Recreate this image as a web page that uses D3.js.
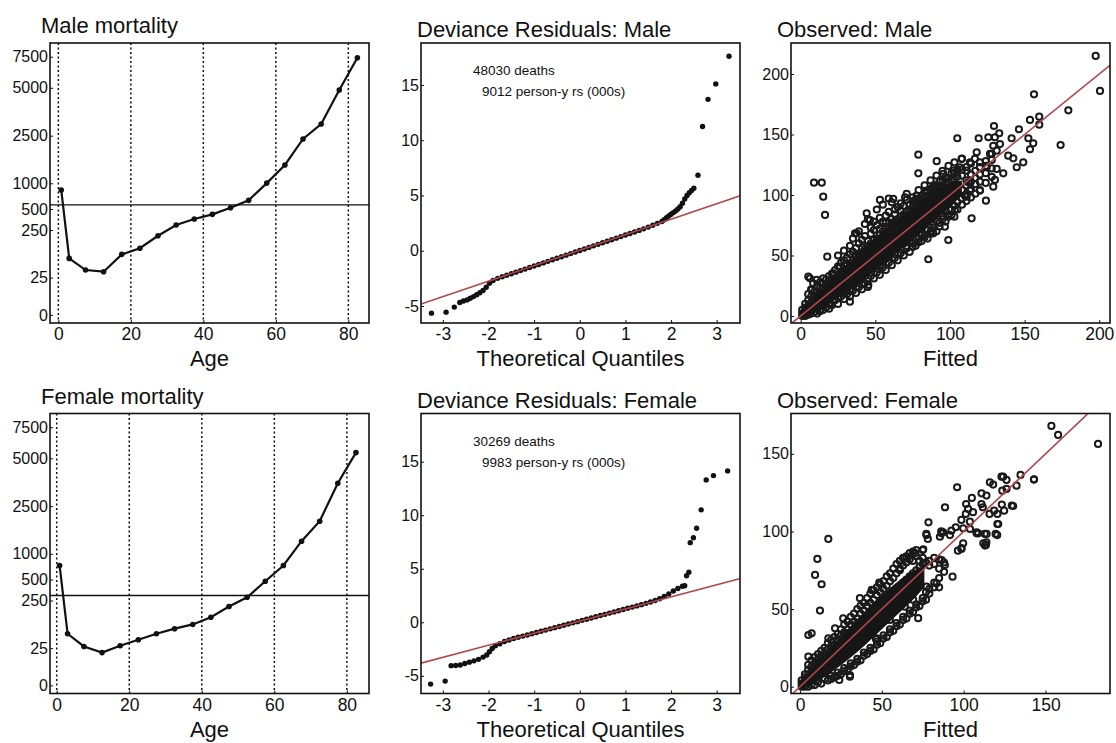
<!DOCTYPE html>
<html>
<head>
<meta charset="utf-8">
<script src="https://cdnjs.cloudflare.com/ajax/libs/d3/7.8.5/d3.min.js"></script>
<style>
  body { margin: 0; background: #fff; }
  svg text { font-family: "Liberation Sans", Arial, Helvetica, sans-serif; fill: #111; }
</style>
</head>
<body>
<svg id="chart" width="1116" height="743"></svg>
<script>
// ---------- data ----------
var ages = [0.8, 3, 7.5, 12.5, 17.5, 22.5, 27.5, 32.5, 37.5, 42.5, 47.5, 52.5, 57.5, 62.5, 67.5, 72.5, 77.5, 82.5];
var maleRate = [870, 116, 61, 53, 135, 164, 223, 310, 381, 437, 525, 669, 1006, 1577, 2396, 3110, 4880, 7420];
var femaleRate = [773, 93, 33, 22, 36, 65, 93, 117, 137, 171, 222, 289, 480, 773, 1397, 2027, 3698, 5460];
var maleRef = 580, femaleRef = 310;
var rateTicks = [0, 25, 250, 500, 1000, 2500, 5000, 7500];
var ageTicks = [0, 20, 40, 60, 80];

var qqTicksX = [-3, -2, -1, 0, 1, 2, 3];
var qqTicksY = [-5, 0, 5, 10, 15];
var maleQ = [-3.25, -2.93, -2.75, -2.63, -2.55, -2.47, -2.4, -2.33, -2.26, -2.19, -2.12, -2.05, -1.98,
  -1.9, -1.8, -1.7, -1.6, -1.5, -1.4, -1.3, -1.2, -1.1, -1.0, -0.9, -0.8, -0.7, -0.6, -0.5, -0.4, -0.3, -0.2, -0.1,
  0, 0.1, 0.2, 0.3, 0.4, 0.5, 0.6, 0.7, 0.8, 0.9, 1.0, 1.1, 1.2, 1.3, 1.4, 1.5, 1.6, 1.7, 1.8,
  1.85, 1.9, 1.95, 2.0, 2.05, 2.1, 2.15, 2.2, 2.25, 2.3, 2.35, 2.4, 2.45, 2.5, 2.59, 2.69, 2.81, 2.98, 3.27];
var maleRes = [-5.65, -5.56, -5.1, -4.69, -4.55, -4.45, -4.3, -4.15, -3.98, -3.8, -3.6, -3.3, -2.95,
  -2.7, -2.5, -2.36, -2.22, -2.08, -1.94, -1.8, -1.66, -1.52, -1.38, -1.24, -1.1, -0.96, -0.82, -0.68, -0.54, -0.4, -0.26, -0.12,
  0.02, 0.16, 0.3, 0.44, 0.58, 0.72, 0.86, 1.0, 1.14, 1.28, 1.42, 1.56, 1.7, 1.84, 1.98, 2.14, 2.3, 2.48, 2.64,
  2.8, 2.98, 3.14, 3.3, 3.45, 3.6, 3.78, 3.98, 4.3, 4.68, 5.0, 5.25, 5.45, 5.65, 6.83, 11.25, 13.7, 15.1, 17.6];
var femaleQ = [-3.27, -2.95, -2.82, -2.72, -2.62, -2.52, -2.42, -2.32, -2.22, -2.12, -2.04, -1.98, -1.92, -1.85,
  -1.75, -1.65, -1.55, -1.45, -1.35, -1.25, -1.15, -1.05, -0.95, -0.85, -0.75, -0.65, -0.55, -0.45, -0.35, -0.25, -0.15, -0.05,
  0.05, 0.15, 0.25, 0.35, 0.45, 0.55, 0.65, 0.75, 0.85, 0.95, 1.05, 1.15, 1.25, 1.35, 1.45, 1.55, 1.65, 1.75, 1.85, 1.95, 2.05, 2.15, 2.25,
  2.3, 2.34, 2.39, 2.42, 2.49, 2.56, 2.66, 2.77, 2.93, 3.24];
var femaleRes = [-5.77, -5.49, -4.05, -4.03, -3.99, -3.85, -3.72, -3.6, -3.46, -3.25, -3.05, -2.75, -2.45, -2.2,
  -2.0, -1.8, -1.65, -1.52, -1.4, -1.29, -1.18, -1.07, -0.95, -0.84, -0.73, -0.61, -0.5, -0.39, -0.27, -0.16, -0.05, 0.06,
  0.18, 0.29, 0.4, 0.52, 0.63, 0.74, 0.86, 0.97, 1.08, 1.2, 1.31, 1.42, 1.53, 1.65, 1.77, 1.9, 2.04, 2.2, 2.42, 2.64, 2.92, 3.15, 3.36,
  3.42, 4.35, 4.67, 7.44, 7.9, 8.78, 10.5, 13.3, 13.7, 14.14];
var maleQQLine = [0.05, 1.4];     // intercept, slope
var femaleQQLine = [0.12, 1.13];
var maleNotes = ["48030 deaths", "9012 person-y rs (000s)"];
var femaleNotes = ["30269 deaths", "9983 person-y rs (000s)"];

var maleObsTicks = [0, 50, 100, 150, 200];
var femaleObsTicks = [0, 50, 100, 150];
// [fitted, observed] for the scattered points
var maleObs = [
  [197.6,214.9],[200.5,186],[156.3,183.2],[179.3,170],[174.1,141.3],
  [159.8,164.7],[159.8,158.1],[153.6,162],[146.2,154.3],[152.5,146.9],[155.8,142.7],[153.6,137.8],[149.1,127],[144.7,122.9],
  [141.3,146.9],[135.7,117.9],[142.4,130.3],[139,132.5],[129.5,157],[133,151],[130.1,147.7],[125.7,147.7],[119.2,146.9],[104.9,146.9],
  [78.8,133.3],[78.8,117.9],[91.1,127.9],[126.8,133.9],[131.3,136.6],[133.5,142.1],[129,140.7],[117.9,135.3],[116.7,129.8],
  [113.4,127],[107.8,129.8],[106.7,122.9],[111.2,120.1],[124.6,122.9],[131.3,121.5],[130.1,112.4],[129,106.9],[124.1,95.3],
  [120.1,103.6],[102.2,120.1],[101.1,111.8],[95.5,117.4],[93.3,111.8],[88.8,106.4],[84.4,103.6],[77.7,99.4],[69.9,98.1],[62,96.7],
  [112.3,110.5],[113.4,103.6],[110,99.4],[97.8,103.6],[104.5,107.7],[114.5,80.7],[98.9,62.8],[85.5,46.9],[111.2,98.6],
  [103.3,87.6],[96.6,73.8],[88.8,68.3],[8.9,110.2],[14.1,110.2],[15.1,98.6],[16.3,83.5],[17.8,49],
  [45.3,25.6],[33,11.8],[44.2,84.9],[37.5,68.3],[46.4,79.3],[53.1,95.9],[36.4,68.3],[6.2,31.1],[8.4,27],
  [10.7,29.8],[5.1,32.5],[7.4,21.5],[21.8,35.3],[26.3,40.7],[24.1,21.5],[19.6,9.1],[12.9,5],[28.5,18.8]
];
// scattered band: [fitted, [observed...]]
var maleBand = [
  [1,[0,2,5]],[3,[0,4,7,10]],[5,[1,8,13,18]],[7,[2,11,16,22]],[9,[3,12,14,20]],[11,[2,6,17,25]],
  [13,[4,19,23,28]],[15,[5,8,22,27,31]],[17,[7,21,24,30]],[19,[6,10,27,33]],[21,[9,24,29,35]],[23,[13,27,31,38]],
  [25,[10,15,33,41,50]],[27,[16,30,35,44]],[29,[14,20,39,46,54]],[31,[18,38,43,48]],[33,[16,22,42,51,58]],
  [35,[21,25,46,53,64]],[37,[19,27,44,50,56]],[39,[24,30,49,60,70]],[41,[22,26,52,57,63]],[43,[27,33,55,66,76]],
  [45,[24,31,58,62,80]],[47,[33,36,60,68,73]],[49,[31,40,63,71,78]],[51,[36,39,64,75,88]],[53,[34,42,67,72,81]],
  [55,[40,45,70,78,92]],[57,[38,47,72,77,83]],[59,[44,50,74,86,97]],[61,[42,53,77,80,94]],[63,[48,51,78,84,88]],
  [65,[46,56,80,90]],[67,[52,55,82,87,93]],[69,[50,60,84,91]],[71,[56,58,86,96,101]],[73,[53,62,88,92]],
  [75,[60,57,90,95,98]],[77,[58,65,92,96]],[79,[64,61,94,97,104]],[81,[62,68,96,99]],[83,[67,65,98,102,108]],
  [85,[64,71,99,103]],[87,[70,68,101,105,112]],[89,[73,76,103,108]],[91,[70,78,105,108,116]],[93,[77,74,106,111]],
  [95,[80,83,108,111,120]],[97,[78,86,109,114]],[99,[84,82,111,114,124]],[101,[83,88,112,118]],[103,[82,91,113,118,127]],
  [105,[88,94,115,121]],[108,[92,97,104,116,121,130]],[111,[95,101,108,112,123]],[114,[98,105,111,117,126]],
  [117,[101,109,114,120]],[120,[104,111,117,123,127]],[124,[110,118,124,128]],[128,[115,122,129,134]]
];
// solid core where the circles merge: fitted, lower and upper observed
var maleCoreF  = [0, 5, 10, 20, 30, 40, 50, 60, 70, 80, 90, 100, 108];
var maleCoreLo = [-2, 0, 3, 11, 19, 28, 38, 48, 58, 68, 79, 90, 101];
var maleCoreHi = [3, 11, 18, 30, 42, 54, 65, 75, 85, 95, 104, 110, 112];

var femaleObs = [
  [153.6,168],[157.7,162.2],[182.1,156.4],[143,133.6],[134.7,136.4],[124.1,135.3],[130.2,116.4],
  [96,128.5],[88.6,115.6],[78.5,105.9],[105,121.6],[110.9,124.6],[116,131.7],[118,130.2],[123.1,135.3],[126.2,133.2],[126.2,127.4],
  [142.9,133.4],[132.3,129.5],[123.6,126.3],[113.9,123.1],[110.9,117.7],[102.7,114.5],[105.7,112.4],[101.3,111.3],[98.6,107.4],
  [95.2,102.7],[92.5,100.5],[87.5,99.5],[85.5,96.6],[86.3,100.1],[78.1,95.2],[77.2,98.4],[103.9,101.6],[107.9,99.5],[112.9,98.4],
  [119.5,98.4],[113.9,93],[113,90.9],[98.6,88.7],[96.5,87.6],[120.6,104.8],[118.6,113.4],[123.3,117.3],[124.7,113.4],[129.4,116.6],
  [120.6,111.3],[101.5,117.7],[111.7,115.6],[115.8,111.3],[107.9,98.8],[114,98.4],[120.5,97.7],[121.1,104.8],[113.6,91.3],
  [93.2,70.9],[72.2,44.1],[46.4,30.7],[17.3,95.2],[10.6,82.3],[9.2,72],[13.2,66],[12.2,49],[5.1,33.3],[7.1,34.4],[24,4.3],[30.5,7.5],
  [77.3,97.7],[86.5,98.8],[91.6,97.7],[99.7,102],[103.8,106.3],[108.9,98.8],[112,92.4],[98.7,89.2],[99.7,92.4],[86.5,81.6],
  [88.5,78.4],[83.4,66.6],[77.3,64.4],[69.2,55.9],[64.1,51.5],[54.9,43],[46.8,31.2],[30.5,6.4],
  [48.4,67],[43.8,62.3],[36.6,57],[26.4,44],[21.4,37.6],[17.3,31.2],[5.1,19.3],[63.1,82.7],[70.2,86],[75.3,88.5],[61,76.3]
];
var femaleBand = [
  [1,[0,2,4]],[3,[0,4,6,8]],[5,[0,8,11,14]],[7,[1,10,13,17]],[9,[1,12,15,19]],[11,[3,14,17,21]],
  [13,[2,16,19,23]],[15,[5,18,21,25]],[17,[4,20,24,28]],[19,[7,5,22,26,30]],[21,[6,24,27,32]],[23,[9,7,26,30,34]],
  [25,[8,28,33,37]],[27,[12,10,30,35,40]],[29,[11,33,37,42]],[31,[15,13,35,40,45]],[33,[14,37,42,47]],
  [35,[18,16,39,44,50]],[37,[17,41,47,52]],[39,[22,20,43,49,54]],[41,[21,45,52,57]],[43,[25,23,47,54,60]],
  [45,[24,49,56,62]],[47,[29,27,51,59,64]],[49,[28,53,61,66]],[51,[33,31,55,63,68]],[53,[32,57,65,71]],
  [55,[37,35,59,68,73]],[57,[36,61,70,76]],[59,[41,39,63,73,79]],[61,[40,65,75,81]],[63,[45,43,67,78,83]],
  [65,[44,69,80,84]],[67,[49,47,71,82,86]],[69,[48,73,81,87]],[71,[53,51,75,84,88]],[73,[52,77,81]],
  [75,[57,55,79,83,88]],[77,[56,61,80]],[79,[60,63,78,81]],[82,[64,67,79,83]],[85,[64,70,76,82]],[88,[74,80]]
];
var femaleCoreF  = [0, 5, 10, 20, 30, 40, 50, 60, 70, 76];
var femaleCoreLo = [-2, 0, 3, 10, 18, 27, 37, 47, 57, 64];
var femaleCoreHi = [3, 9, 15, 27, 38, 49, 59, 68, 75, 78];

// ---------- layout ----------
var colX = [50, 421, 791], rowY = [43, 413.5], pw = 319, ph = 280;
var titleX = [41, 417, 777], titleDy = [-10, -6, -6];
// where each rate tick sits, as a share of the plot height from the top
var rateTickFrac = [0.971, 0.838, 0.668, 0.593, 0.501, 0.331, 0.160, 0.049];
var red = "#b0474b", ink = "#111";

var svg = d3.select("#chart");

function panel(col, row) {
  var g = svg.append("g").attr("transform", "translate(" + colX[col] + "," + rowY[row] + ")");
  var id = "clip" + col + row;
  g.append("clipPath").attr("id", id).append("rect").attr("width", pw).attr("height", ph);
  g.plot = g.append("g").attr("clip-path", "url(#" + id + ")");
  return g;
}

function decorate(g, col, x, y, xt, yt, title, xlabel) {
  var ax = g.append("g").attr("transform", "translate(0," + ph + ")")
    .call(d3.axisBottom(x).tickValues(xt).tickSizeInner(-3).tickSizeOuter(0).tickPadding(5)
      .tickFormat(function(d) { return String(d); }));
  var ay = g.append("g")
    .call(d3.axisLeft(y).tickValues(yt).tickSizeInner(-3).tickSizeOuter(0).tickPadding(2)
      .tickFormat(function(d) { return String(d); }));
  [ax, ay].forEach(function(a) {
    a.select(".domain").remove();
    a.selectAll("line").attr("stroke", ink);
    a.selectAll("text").attr("fill", ink).style("font-family", '"Liberation Sans", Arial, sans-serif');
  });
  ax.selectAll("text").attr("font-size", 17.5);
  ay.selectAll("text").attr("font-size", 16);

  g.append("rect").attr("width", pw).attr("height", ph)
    .attr("fill", "none").attr("stroke", ink).attr("stroke-width", 1.6);

  g.append("text").attr("x", titleX[col] - colX[col]).attr("y", titleDy[col])
    .attr("font-size", 22).text(title);
  g.append("text").attr("x", pw / 2).attr("y", ph + 43)
    .attr("text-anchor", "middle").attr("font-size", 22).text(xlabel);
}

function mortality(row, rates, ref, xdom, title) {
  var g = panel(0, row);
  var x = d3.scaleLinear().domain(xdom).range([0, pw]);
  var y = d3.scaleLinear().domain(rateTicks).range(rateTickFrac.map(function(f) { return f * ph; }));

  g.plot.selectAll(".grid").data(ageTicks).enter().append("line")
    .attr("x1", function(d) { return x(d); }).attr("x2", function(d) { return x(d); })
    .attr("y1", 0).attr("y2", ph)
    .attr("stroke", ink).attr("stroke-width", 1.5).attr("stroke-dasharray", "2,2.5");

  g.plot.append("line").attr("x1", 0).attr("x2", pw)
    .attr("y1", y(ref)).attr("y2", y(ref)).attr("stroke", ink).attr("stroke-width", 1.3);

  var pts = ages.map(function(a, i) { return [a, rates[i]]; });
  g.plot.append("path").datum(pts)
    .attr("d", d3.line().x(function(d) { return x(d[0]); }).y(function(d) { return y(d[1]); }))
    .attr("fill", "none").attr("stroke", ink).attr("stroke-width", 2.2);
  g.plot.selectAll(".pt").data(pts).enter().append("circle")
    .attr("cx", function(d) { return x(d[0]); }).attr("cy", function(d) { return y(d[1]); })
    .attr("r", 2.8).attr("fill", ink);

  decorate(g, 0, x, y, ageTicks, rateTicks, title, "Age");
}

function qq(row, qs, rs, ydom, ln, notes, title) {
  var g = panel(1, row);
  var x = d3.scaleLinear().domain([-3.48, 3.5]).range([0, pw - 0.5]);
  var y = d3.scaleLinear().domain(ydom).range([ph, 0]);

  g.plot.selectAll(".pt").data(qs).enter().append("circle")
    .attr("cx", function(d) { return x(d); })
    .attr("cy", function(d, i) { return y(rs[i]); })
    .attr("r", 2.7).attr("fill", ink);

  var xd = x.domain();
  g.plot.append("line")
    .attr("x1", x(xd[0])).attr("y1", y(ln[0] + ln[1] * xd[0]))
    .attr("x2", x(xd[1])).attr("y2", y(ln[0] + ln[1] * xd[1]))
    .attr("stroke", red).attr("stroke-width", 1.6);

  g.append("text").attr("x", 52).attr("y", 32).attr("font-size", 13.5).text(notes[0]);
  g.append("text").attr("x", 61).attr("y", 53).attr("font-size", 13.5).text(notes[1]);

  decorate(g, 1, x, y, qqTicksX, qqTicksY, title, "Theoretical Quantiles");
}

function observed(row, pts, band, coreF, coreLo, coreHi, xdom, ydom, ticks, title) {
  var g = panel(2, row);
  var x = d3.scaleLinear().domain(xdom).range([0, pw]);
  var y = d3.scaleLinear().domain(ydom).range([ph, 0]);

  var all = [];
  band.forEach(function(c) { c[1].forEach(function(o) { all.push([c[0], o]); }); });
  all = all.concat(pts);

  g.plot.selectAll(".pt").data(all).enter().append("circle")
    .attr("cx", function(d) { return x(d[0]); }).attr("cy", function(d) { return y(d[1]); })
    .attr("r", 3.1).attr("fill", "none").attr("stroke", "#1a1a1a").attr("stroke-width", 2);

  g.plot.append("path").datum(coreF)
    .attr("d", d3.area().curve(d3.curveMonotoneX)
      .x(function(d) { return x(d); })
      .y0(function(d, i) { return y(coreLo[i]); })
      .y1(function(d, i) { return y(coreHi[i]); }))
    .attr("fill", "#161616");

  g.plot.append("line")
    .attr("x1", x(-20)).attr("y1", y(-20)).attr("x2", x(260)).attr("y2", y(260))
    .attr("stroke", red).attr("stroke-width", 1.6);

  decorate(g, 2, x, y, ticks, ticks, title, "Fitted");
}

mortality(0, maleRate, maleRef, [-2.3, 85.7], "Male mortality");
mortality(1, femaleRate, femaleRef, [-1.85, 86.1], "Female mortality");
qq(0, maleQ, maleRes, [-6.54, 18.8], maleQQLine, maleNotes, "Deviance Residuals: Male");
qq(1, femaleQ, femaleRes, [-6.65, 19.5], femaleQQLine, femaleNotes, "Deviance Residuals: Female");
observed(0, maleObs, maleBand, maleCoreF, maleCoreLo, maleCoreHi, [-6.5, 207.2], [-5.8, 225.6], maleObsTicks, "Observed: Male");
observed(1, femaleObs, femaleBand, femaleCoreF, femaleCoreLo, femaleCoreHi, [-5.5, 189.4], [-4.4, 176], femaleObsTicks, "Observed: Female");
</script>
</body>
</html>
